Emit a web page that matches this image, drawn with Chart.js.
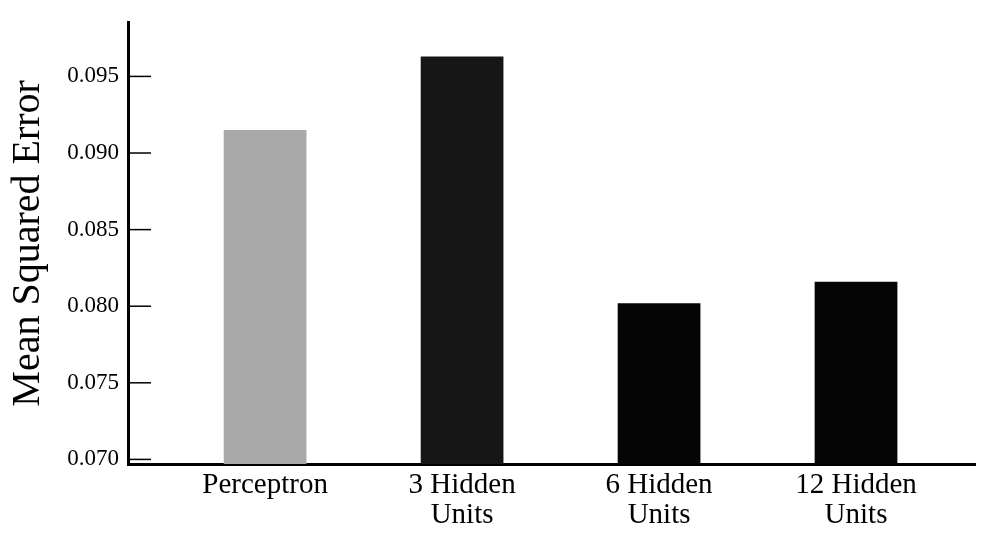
<!DOCTYPE html>
<html>
<head>
<meta charset="utf-8">
<script src="https://cdn.jsdelivr.net/npm/chart.js@4.4.0/dist/chart.umd.min.js"></script>
<style>
  html, body { margin: 0; padding: 0; background: #fff; }
  #wrap { width: 984px; height: 534px; }
</style>
</head>
<body>
<div id="wrap"><canvas id="myChart"></canvas></div>
<script>
'use strict';

// <------------------ DATA ------------------>

let categories = [['Perceptron'], ['3 Hidden', 'Units'], ['6 Hidden', 'Units'], ['12 Hidden', 'Units']];
let errorValues = [0.0915, 0.0963, 0.0802, 0.0816];
let yTicks = [0.070, 0.075, 0.080, 0.085, 0.090, 0.095];

let yTitle = 'Mean Squared Error';


// <------------------ CANVAS ------------------>

let ctx = document.getElementById('myChart').getContext('2d');


// <------------------ PLUGIN: tick marks pointing into the plot ------------------>

let innerTicks = {
  id: 'innerTicks',
  afterDraw(chart) {
    let c = chart.ctx;
    let yScale = chart.scales.y;
    c.save();
    c.strokeStyle = '#000';
    c.lineWidth = 1.5;
    yScale.ticks.forEach(function (t) {
      let y = yScale.getPixelForValue(t.value);
      c.beginPath();
      c.moveTo(yScale.right, y);
      c.lineTo(yScale.right + 23, y);
      c.stroke();
    });
    c.restore();
  }
};


// <------------------ CHART ------------------>

let points = errorValues.map(function (v, i) {
  return { x: i, y: v };
});

let myChartObj = {
  type: 'bar',
  data: {
    datasets: [{
      data: points,
      backgroundColor: ['#a9a9a9', '#161616', '#050505', '#050505'],
      borderWidth: 0,
      categoryPercentage: 1,
      barPercentage: 0.42
    }]
  },
  options: {
    responsive: true,
    maintainAspectRatio: false,
    animation: false,
    layout: { padding: { top: 10, right: 9, left: 0, bottom: 0 } },
    plugins: {
      legend: { display: false },
      tooltip: { enabled: false }
    },
    scales: {
      x: {
        type: 'linear',
        offset: false,
        min: -0.696,
        max: 3.604,
        afterBuildTicks: function (scale) {
          scale.ticks = categories.map(function (c, i) { return { value: i }; });
        },
        afterFit: function (scale) { scale.height = 70; },
        grid: { display: false, drawTicks: false },
        border: { display: true, color: '#000', width: 3 },
        ticks: {
          autoSkip: false,
          maxRotation: 0,
          padding: 6,
          color: '#000',
          font: { family: 'Liberation Serif', size: 29, lineHeight: 1.05 },
          callback: function (value) { return categories[value]; }
        }
      },
      y: {
        min: 0.0697,
        max: 0.0985,
        afterBuildTicks: function (scale) {
          scale.ticks = yTicks.map(function (v) { return { value: v }; });
        },
        afterFit: function (scale) { scale.width = 128; },
        grid: { drawOnChartArea: false, drawTicks: false },
        border: { display: true, color: '#000', width: 3 },
        ticks: {
          padding: 9,
          color: '#000',
          font: { family: 'Liberation Serif', size: 23 },
          callback: function (value) { return value.toFixed(3); }
        },
        title: {
          display: true,
          text: yTitle,
          color: '#000',
          padding: { top: 4, bottom: 0 },
          font: { family: 'Liberation Serif', size: 40 }
        }
      }
    }
  },
  plugins: [innerTicks]
};

const myChart = new Chart(ctx, myChartObj);
</script>
</body>
</html>
